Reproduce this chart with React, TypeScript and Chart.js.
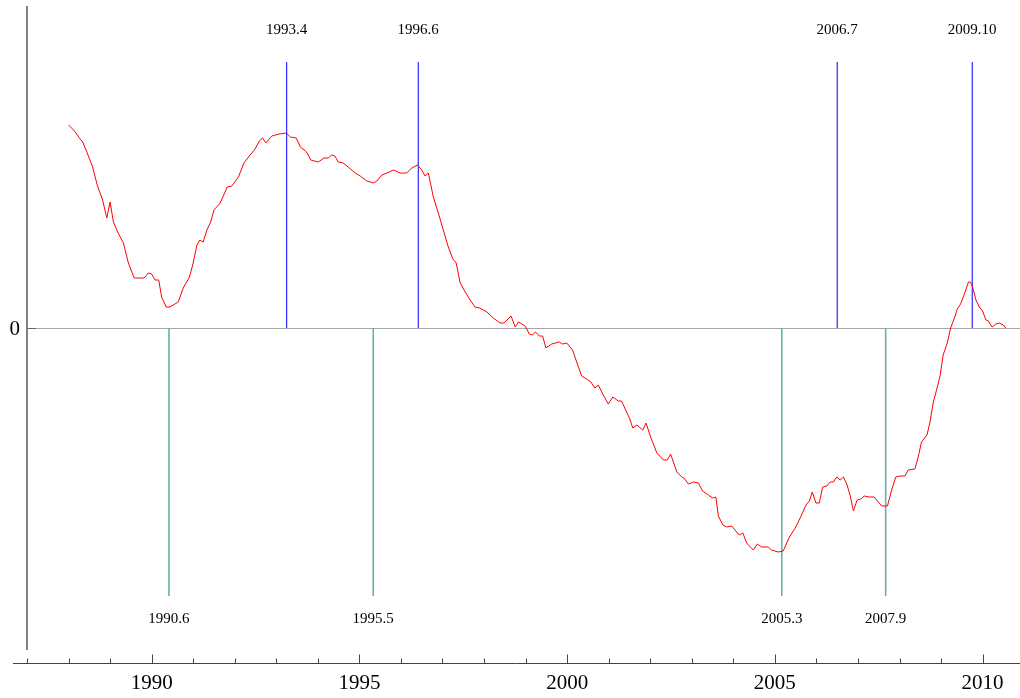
import React, { useEffect, useRef } from "react";
import { Chart, registerables } from "chart.js";

Chart.register(...registerables);

const years = [
  1988.0, 1988.12, 1988.18, 1988.26, 1988.34, 1988.44, 1988.58, 1988.69, 1988.82, 1988.92,
  1989.0, 1989.08, 1989.17, 1989.32, 1989.44, 1989.58, 1989.68, 1989.82, 1989.92, 1990.0,
  1990.08, 1990.17, 1990.24, 1990.35, 1990.44, 1990.64, 1990.76, 1990.91, 1991.0, 1991.09,
  1991.16, 1991.24, 1991.33, 1991.42, 1991.5, 1991.65, 1991.82, 1991.93, 1992.09, 1992.22,
  1992.37, 1992.49, 1992.59, 1992.67, 1992.75, 1992.89, 1993.07, 1993.24, 1993.34, 1993.48,
  1993.58, 1993.73, 1993.83, 1994.01, 1994.15, 1994.25, 1994.33, 1994.41, 1994.49, 1994.61,
  1994.73, 1994.9, 1995.02, 1995.18, 1995.34, 1995.42, 1995.54, 1995.66, 1995.82, 1995.98,
  1996.14, 1996.26, 1996.4, 1996.5, 1996.58, 1996.66, 1996.78, 1996.9, 1997.02, 1997.14,
  1997.25, 1997.33, 1997.42, 1997.52, 1997.65, 1997.78, 1997.89, 1998.07, 1998.22, 1998.39,
  1998.48, 1998.65, 1998.75, 1998.83, 1998.99, 1999.09, 1999.16, 1999.24, 1999.33, 1999.41,
  1999.49, 1999.63, 1999.81, 1999.89, 1999.99, 2000.13, 2000.23, 2000.35, 2000.47, 2000.57,
  2000.67, 2000.75, 2000.87, 2000.99, 2001.1, 2001.23, 2001.31, 2001.43, 2001.5, 2001.58,
  2001.68, 2001.82, 2001.9, 2002.01, 2002.16, 2002.32, 2002.41, 2002.49, 2002.64, 2002.76,
  2002.81, 2002.92, 2003.04, 2003.16, 2003.26, 2003.4, 2003.5, 2003.58, 2003.64, 2003.75,
  2003.84, 2003.96, 2004.08, 2004.14, 2004.23, 2004.32, 2004.48, 2004.58, 2004.68, 2004.84,
  2004.92, 2005.08, 2005.2, 2005.35, 2005.49, 2005.62, 2005.75, 2005.83, 2005.9, 2005.99,
  2006.07, 2006.15, 2006.25, 2006.33, 2006.41, 2006.49, 2006.57, 2006.65, 2006.73, 2006.81,
  2006.89, 2006.98, 2007.07, 2007.15, 2007.27, 2007.39, 2007.57, 2007.71, 2007.81, 2007.91,
  2008.01, 2008.13, 2008.21, 2008.37, 2008.45, 2008.53, 2008.66, 2008.73, 2008.81, 2008.91,
  2008.98, 2009.05, 2009.15, 2009.23, 2009.34, 2009.39, 2009.47, 2009.58, 2009.66, 2009.71,
  2009.76, 2009.84, 2009.92, 2010.0, 2010.08, 2010.14, 2010.23, 2010.32, 2010.4, 2010.5,
  2010.56,
];

const values = [
  2.03, 1.98, 1.95, 1.9, 1.86, 1.76, 1.61, 1.43, 1.28, 1.1,
  1.26, 1.06, 0.97, 0.85, 0.65, 0.5, 0.5, 0.5, 0.55, 0.54,
  0.48, 0.48, 0.31, 0.21, 0.21, 0.26, 0.4, 0.51, 0.65, 0.83,
  0.88, 0.86, 0.98, 1.06, 1.18, 1.25, 1.41, 1.42, 1.51, 1.65,
  1.73, 1.79, 1.87, 1.9, 1.85, 1.92, 1.94, 1.95, 1.91, 1.9,
  1.81, 1.76, 1.68, 1.66, 1.7, 1.7, 1.73, 1.72, 1.66, 1.65,
  1.61, 1.55, 1.52, 1.47, 1.45, 1.47, 1.53, 1.55, 1.58, 1.55,
  1.55, 1.6, 1.63, 1.58, 1.52, 1.55, 1.31, 1.15, 0.98, 0.81,
  0.69, 0.65, 0.46, 0.38, 0.29, 0.21, 0.2, 0.16, 0.1, 0.05,
  0.05, 0.12, 0.01, 0.06, 0.02, -0.06, -0.07, -0.04, -0.08, -0.08,
  -0.2, -0.16, -0.14, -0.16, -0.15, -0.22, -0.34, -0.48, -0.51, -0.54,
  -0.6, -0.57, -0.67, -0.76, -0.69, -0.73, -0.73, -0.84, -0.9, -1.0,
  -0.97, -1.02, -0.95, -1.09, -1.25, -1.32, -1.32, -1.26, -1.44, -1.49,
  -1.5, -1.56, -1.54, -1.55, -1.63, -1.67, -1.7, -1.69, -1.88, -1.97,
  -1.99, -1.98, -2.04, -2.07, -2.05, -2.15, -2.22, -2.16, -2.19, -2.19,
  -2.22, -2.24, -2.23, -2.09, -2.0, -1.89, -1.77, -1.73, -1.64, -1.75,
  -1.75, -1.59, -1.58, -1.54, -1.54, -1.49, -1.52, -1.49, -1.56, -1.67,
  -1.83, -1.72, -1.71, -1.68, -1.69, -1.69, -1.78, -1.78, -1.62, -1.49,
  -1.48, -1.48, -1.42, -1.41, -1.29, -1.14, -1.07, -0.95, -0.75, -0.59,
  -0.47, -0.27, -0.15, 0.0, 0.12, 0.19, 0.24, 0.36, 0.46, 0.46,
  0.41, 0.28, 0.21, 0.17, 0.08, 0.07, 0.01, 0.04, 0.05, 0.03,
  0.0,
];

const peakLabels = ["1993.4", "1996.6", "2006.7", "2009.10"];
const peakYears = [1993.25, 1996.4167, 2006.5, 2009.75];
const troughLabels = ["1990.6", "1995.5", "2005.3", "2007.9"];
const troughYears = [1990.4167, 1995.3333, 2005.1667, 2007.6667];
const labeledYears = [1990, 1995, 2000, 2005, 2010];

const X_MIN = 1987;
const X_MAX = 2010.9;
const Y_MIN = -3.35;
const Y_MAX = 3.22;
const PEAK_HEIGHT = 2.66;
const TROUGH_DEPTH = -2.68;
const PEAK_LABEL_AT = 2.975;
const TROUGH_LABEL_AT = -2.91;
const AXIS_END = -3.22;

const SERIF = "'Liberation Serif', 'Times New Roman', serif";
const BLUE = "#0000ff";
const TEAL = "#66b2ac";

const decorPlugin = {
  id: "decor",
  beforeDatasetsDraw(chart: any) {
    const { ctx, scales } = chart;
    const xs = scales.x;
    const ys = scales.y;
    const area = chart.chartArea;
    ctx.save();
    const x0 = xs.getPixelForValue(X_MIN);
    const y0 = Math.round(ys.getPixelForValue(0)) + 0.5;
    // zero line
    ctx.strokeStyle = "#a6a6a6";
    ctx.lineWidth = 1;
    ctx.beginPath();
    ctx.moveTo(x0, y0);
    ctx.lineTo(area.right, y0);
    ctx.stroke();
    // y axis line
    ctx.strokeStyle = "#808080";
    ctx.lineWidth = 2;
    ctx.beginPath();
    ctx.moveTo(x0, area.top);
    ctx.lineTo(x0, ys.getPixelForValue(AXIS_END));
    ctx.stroke();
    // zero tick
    ctx.strokeStyle = "#666666";
    ctx.lineWidth = 1;
    ctx.beginPath();
    ctx.moveTo(x0, y0);
    ctx.lineTo(x0 + 9, y0);
    ctx.stroke();
    // zero label
    ctx.fillStyle = "#000";
    ctx.font = `21px ${SERIF}`;
    ctx.textAlign = "right";
    ctx.textBaseline = "middle";
    ctx.fillText("0", x0 - 7, y0 + 1);
    // x axis line
    const yb = Math.round(area.bottom) + 0.5;
    ctx.strokeStyle = "#444444";
    ctx.lineWidth = 1;
    ctx.beginPath();
    ctx.moveTo(13, yb);
    ctx.lineTo(area.right, yb);
    ctx.stroke();
    // x ticks (inward)
    for (let yr = Math.ceil(X_MIN); yr <= X_MAX; yr++) {
      const px = Math.round(xs.getPixelForValue(yr)) + 0.5;
      const len = yr % 5 === 0 ? 9 : 5;
      ctx.beginPath();
      ctx.moveTo(px, yb);
      ctx.lineTo(px, yb - len);
      ctx.stroke();
    }
    ctx.restore();
  },
  afterDatasetsDraw(chart: any) {
    const { ctx, scales } = chart;
    const xs = scales.x;
    const ys = scales.y;
    ctx.save();
    ctx.fillStyle = "#000";
    ctx.font = `15px ${SERIF}`;
    ctx.textAlign = "center";
    ctx.textBaseline = "middle";
    peakLabels.forEach((lab, i) => {
      ctx.fillText(lab, xs.getPixelForValue(peakYears[i]), ys.getPixelForValue(PEAK_LABEL_AT));
    });
    troughLabels.forEach((lab, i) => {
      ctx.fillText(lab, xs.getPixelForValue(troughYears[i]), ys.getPixelForValue(TROUGH_LABEL_AT));
    });
    ctx.restore();
  },
};

export default function App() {
  const ref = useRef<HTMLCanvasElement | null>(null);
  useEffect(() => {
    if (!ref.current) return;
    const markerSets: any[] = [];
    peakYears.forEach((yr) => {
      markerSets.push({
        data: [{ x: yr, y: 0 }, { x: yr, y: PEAK_HEIGHT }],
        borderColor: BLUE,
        borderWidth: 1,
        pointRadius: 0,
        tension: 0,
      });
    });
    troughYears.forEach((yr) => {
      markerSets.push({
        data: [{ x: yr, y: 0 }, { x: yr, y: TROUGH_DEPTH }],
        borderColor: TEAL,
        borderWidth: 1.6,
        pointRadius: 0,
        tension: 0,
      });
    });
    const chart = new Chart(ref.current, {
      type: "line",
      data: {
        datasets: [
          {
            data: years.map((x, i) => ({ x, y: values[i] })),
            borderColor: "#ff0000",
            borderWidth: 1,
            pointRadius: 0,
            tension: 0,
          },
          ...markerSets,
        ],
      },
      plugins: [decorPlugin],
      options: {
        responsive: false,
        animation: false,
        devicePixelRatio: 1,
        layout: { padding: { left: 27, top: 6, right: 0, bottom: 0 } },
        plugins: { legend: { display: false }, tooltip: { enabled: false } },
        scales: {
          x: {
            type: "linear",
            min: X_MIN,
            max: X_MAX,
            border: { display: false },
            grid: { display: false, drawTicks: false },
            afterFit: (s: any) => {
              s.height = 35;
            },
            ticks: {
              stepSize: 1,
              includeBounds: false,
              autoSkip: false,
              maxRotation: 0,
              padding: 8,
              color: "#000",
              font: { family: SERIF, size: 21 },
              callback: (v: any) => (labeledYears.includes(Number(v)) ? String(v) : ""),
            },
          },
          y: {
            type: "linear",
            display: false,
            min: Y_MIN,
            max: Y_MAX,
          },
        },
      },
    });
    return () => chart.destroy();
  }, []);
  return (
    <div style={{ position: "absolute", left: 0, top: 0, width: 1020, height: 698 }}>
      <canvas ref={ref} width={1020} height={698} style={{ display: "block" }} />
    </div>
  );
}
